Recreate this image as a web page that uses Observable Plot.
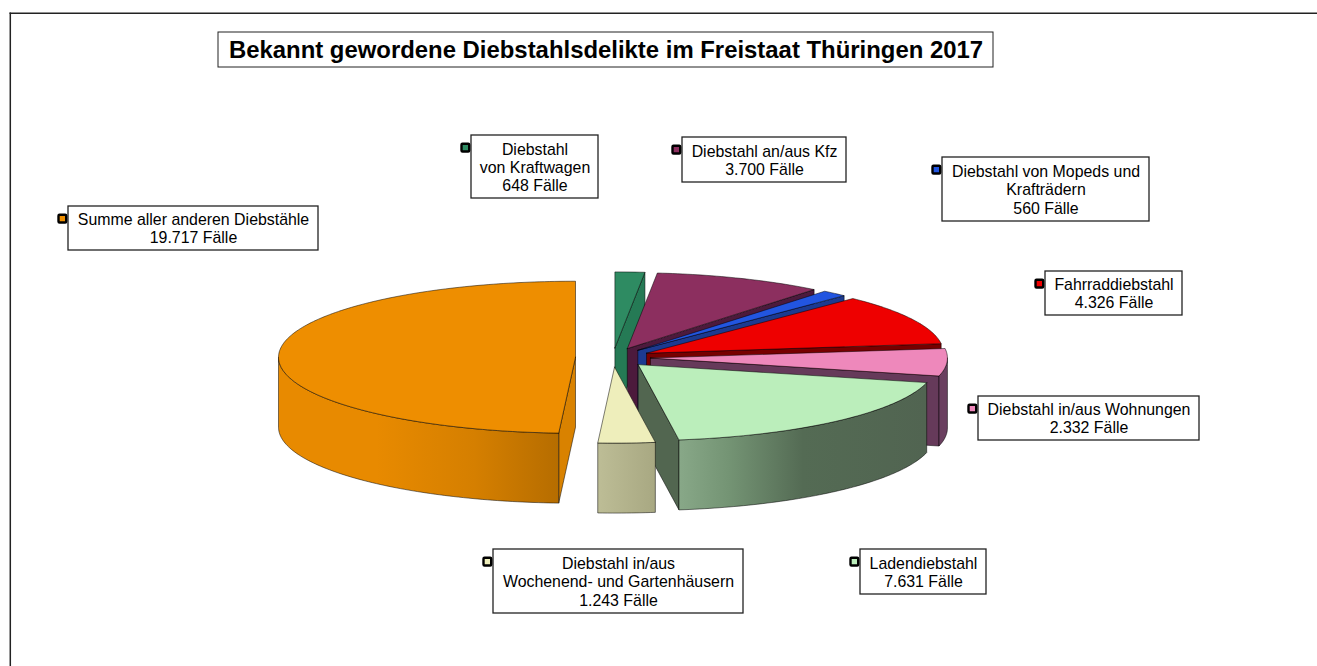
<!DOCTYPE html>
<html>
<head>
<meta charset="utf-8">
<style>html,body{margin:0;padding:0;background:#fff}svg{display:block}</style>
<script src="https://cdn.jsdelivr.net/npm/d3@7"></script>
<script src="https://cdn.jsdelivr.net/npm/@observablehq/plot@0.6"></script>
</head>
<body>
<script>
const chartTitle = "Bekannt gewordene Diebstahlsdelikte im Freistaat Thüringen 2017";
const categories = ["Diebstahl\nvon Kraftwagen","Diebstahl an/aus Kfz","Diebstahl von Mopeds und\nKrafträdern","Fahrraddiebstahl","Diebstahl in/aus Wohnungen","Ladendiebstahl","Diebstahl in/aus\nWochenend- und Gartenhäusern","Summe aller anderen Diebstähle"];
const values = [648,3700,560,4326,2332,7631,1243,19717];

// styles
const topColors  = ["#2E8B62","#8C2F5F","#2255E0","#EE0000","#EE88BB","#BBEEBB","#EEEEBB","#EE8E00"];
const wallColors = ["#257A55","#4C1A3C","#1C3A90","#770000","#663A5A","#526650","#B0B08C","#D98200"];
const outerFills = ["#257A55","#4C1A3C","#1C3A90","#770000","#6A3F5F","url(#gGreen)","url(#gCream)","url(#gOrange)"];
// layout of the label boxes: [left, top, right, bottom]
const boxes = [[471,135,598,198],[682,137,846,182],[942,157,1149,221],[1045,271,1182,315],[978,396,1199,440],[860,549,986,594],[493,549,743,613],[68,206,318,250]];
// layout of the pie
const W = 1317, H = 666;
const cx = 612.5, cy = 357, rx = 297, ry = 76, depth = 70, explode = 37.5;

const total = d3.sum(values);
const rad = d => d * Math.PI / 180;
const cum = d3.cumsum(values);
const slices = values.map((v, i) => {
  const a0 = (i ? cum[i - 1] : 0) / total * 360, a1 = cum[i] / total * 360, mid = (a0 + a1) / 2;
  return {i, a0, a1, ax: cx + explode * Math.sin(rad(mid)), ay: cy - explode * (ry / rx) * Math.cos(rad(mid))};
});
const P = (s, a, dz = 0) => ({x: s.ax + rx * Math.sin(rad(a)), y: s.ay - ry * Math.cos(rad(a)) + dz});
const arc = (s, a0, a1, dz = 0) => {
  const n = Math.max(2, Math.ceil(Math.abs(a1 - a0)));
  return d3.range(n + 1).map(k => P(s, a0 + (a1 - a0) * k / n, dz));
};
const face = (pts, fill, stroke = "#000", op = 0.5) =>
  Plot.line([...pts, pts[0]], {x: "x", y: "y", fill, stroke, strokeWidth: 1, strokeOpacity: op, curve: "linear"});

const pieMarks = slices.flatMap(s => {
  const m = [], c = {x: s.ax, y: s.ay}, cb = {x: s.ax, y: s.ay + depth};
  const sinNeg = a => Math.sin(rad(a)) < -1e-6, sinPos = a => Math.sin(rad(a)) > 1e-6;
  if (sinNeg(s.a0)) m.push(face([c, P(s, s.a0), P(s, s.a0, depth), cb], wallColors[s.i]));
  if (sinPos(s.a1)) m.push(face([c, P(s, s.a1), P(s, s.a1, depth), cb], wallColors[s.i]));
  const lo = Math.max(s.a0, 90), hi = Math.min(s.a1, 270);
  if (hi > lo) m.push(face([...arc(s, lo, hi), ...arc(s, hi, lo, depth)], outerFills[s.i]));
  m.push(face([c, ...arc(s, s.a0, s.a1)], topColors[s.i]));
  return m;
});

const labels = categories.map((c, i) => ({
  text: c + "\n" + values[i].toLocaleString("de-DE") + " Fälle",
  x1: boxes[i][0], y1: boxes[i][1], x2: boxes[i][2], y2: boxes[i][3], color: topColors[i]
}));

const chart = Plot.plot({
  width: W, height: H, margin: 0,
  x: {domain: [0, W], range: [0, W], axis: null},
  y: {domain: [0, H], range: [0, H], axis: null},
  color: {type: "identity"},
  style: {fontFamily: "'Liberation Sans', Arial, sans-serif", background: "#fff", overflow: "visible"},
  marks: [
    Plot.ruleY([12.8], {x1: 9.5, x2: W, stroke: "#222", strokeWidth: 1.5}),
    Plot.ruleX([9.8], {y1: 12.5, y2: H, stroke: "#222", strokeWidth: 1.5}),
    ...pieMarks,
    Plot.rect(labels, {x1: "x1", x2: "x2", y1: "y1", y2: "y2", fill: "#fff", stroke: "#222", strokeWidth: 1.3}),
    Plot.rect(labels, {x1: d => d.x1 - 9.5, x2: d => d.x1 - 1.8, y1: d => d.y1 + 8.8, y2: d => d.y1 + 16.5, fill: "color", stroke: "#000", strokeWidth: 2.4, rx: 1}),
    Plot.text(labels, {x: d => (d.x1 + d.x2) / 2, y: d => (d.y1 + d.y2) / 2, text: "text", fontSize: 15.9, lineHeight: 1.15, fill: "#000", textAnchor: "middle", lineAnchor: "middle"}),
    Plot.rect([chartTitle], {x1: 218, x2: 993, y1: 32, y2: 67, fill: "#fff", stroke: "#222", strokeWidth: 1}),
    Plot.text([chartTitle], {x: 605.5, y: 50, text: d => d, fontSize: 23.9, fontWeight: "bold", fill: "#000", textAnchor: "middle", lineAnchor: "middle"})
  ]
});

const defs = d3.select(chart).insert("defs", ":first-child");
const grad = (id, stops) => {
  const g = defs.append("linearGradient").attr("id", id);
  stops.forEach(([o, c]) => g.append("stop").attr("offset", o).attr("stop-color", c));
};
grad("gOrange", [[0, "#E88A00"], [0.35, "#E88A00"], [0.7, "#D57F00"], [1, "#B66D00"]]);
grad("gGreen", [[0, "#88A888"], [0.2, "#749474"], [0.5, "#546B54"], [1, "#516451"]]);
grad("gCream", [[0, "#BDBD96"], [1, "#A8A882"]]);

document.body.appendChild(chart);
</script>
</body>
</html>
